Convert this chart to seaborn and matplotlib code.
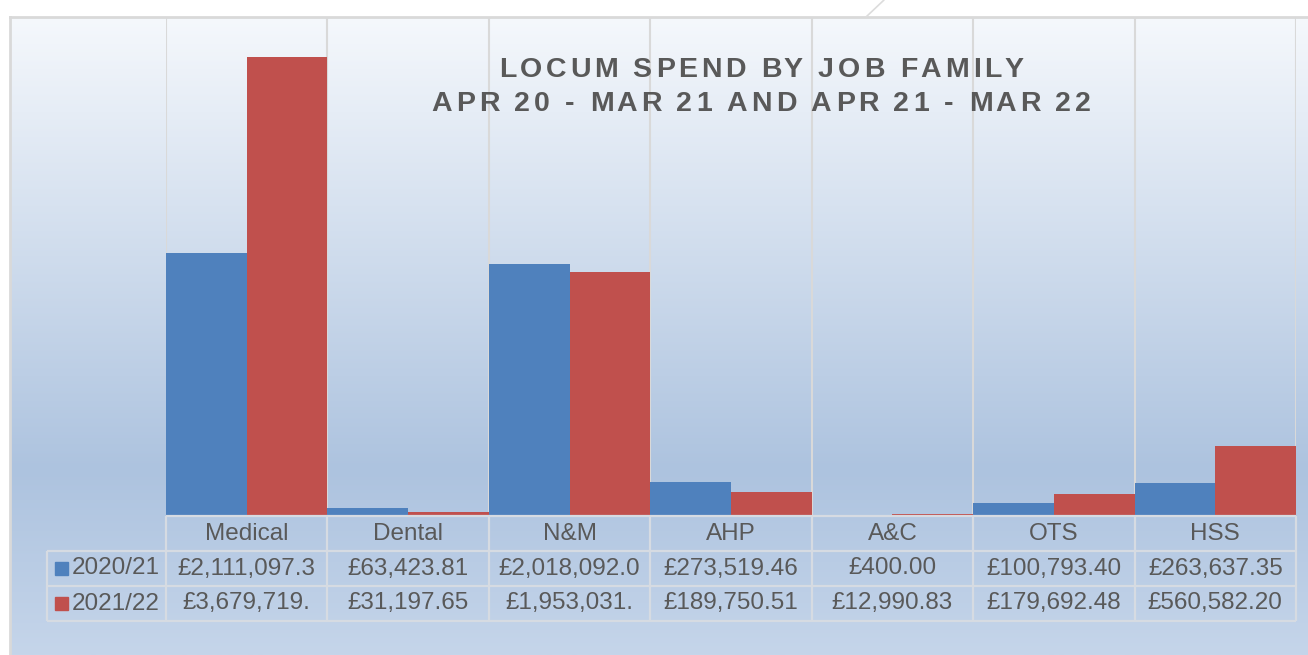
import matplotlib.pyplot as plt
import numpy as np
import pandas as pd
import seaborn as sns
from matplotlib import font_manager, ft2font
from matplotlib.colors import LinearSegmentedColormap
from matplotlib.lines import Line2D
from matplotlib.patches import Rectangle

sns.set_style('white')
plt.rcParams['font.family'] = ['Liberation Sans', 'DejaVu Sans']

categories = ['Medical', 'Dental', 'N&M', 'AHP', 'A&C', 'OTS', 'HSS']
years = ['2020/21', '2021/22']
spend_2020_21 = [2111097.30, 63423.81, 2018092.00, 273519.46, 400.00, 100793.40, 263637.35]
spend_2021_22 = [3679719.00, 31197.65, 1953031.00, 189750.51, 12990.83, 179692.48, 560582.20]
# text as it shows in the data table (Excel clips the long ones)
shown_2020_21 = ['£2,111,097.3', '£63,423.81', '£2,018,092.0', '£273,519.46',
                 '£400.00', '£100,793.40', '£263,637.35']
shown_2021_22 = ['£3,679,719.', '£31,197.65', '£1,953,031.', '£189,750.51',
                 '£12,990.83', '£179,692.48', '£560,582.20']
title_lines = ['LOCUM SPEND BY JOB FAMILY', 'APR 20 - MAR 21 AND APR 21 - MAR 22']

colours = ['#4f81bd', '#c0504d']
grey_text = '#595959'
grid_col = '#d9d9d9'

df = pd.DataFrame({
    'Job family': categories * 2,
    'Year': [years[0]] * 7 + [years[1]] * 7,
    'Spend': spend_2020_21 + spend_2021_22,
})

W, H = 1308, 655
fig = plt.figure(figsize=(W / 100, H / 100), dpi=100)
fig.patch.set_facecolor('white')

# chart area with vertical gradient
bg = fig.add_axes([10 / W, 0, 1 - 10 / W, 1 - 17 / H])
grad = LinearSegmentedColormap.from_list(
    'bg', [(0, '#f5f8fc'), (0.71, '#adc3df'), (1, '#c5d5ea')])
bg.imshow(np.linspace(0, 1, 256).reshape(-1, 1), cmap=grad, aspect='auto',
          extent=[0, 1, 0, 1], origin='upper')
bg.set_xticks([])
bg.set_yticks([])
for side in ['right', 'bottom']:
    bg.spines[side].set_visible(False)
for side in ['left', 'top']:
    bg.spines[side].set_color(grid_col)
    bg.spines[side].set_linewidth(2)
fig.add_artist(Line2D([866 / W, 884 / W], [1 - 17 / H, 1], color='#dcdcdc', lw=1.2))

# bars
ax = fig.add_axes([166 / W, 1 - 516 / H, 1130 / W, (516 - 17) / H])
ax.patch.set_alpha(0)
sns.barplot(data=df, x='Job family', y='Spend', hue='Year', palette=colours,
            width=1, saturation=1, legend=False, linewidth=0, ax=ax, zorder=2)
ax.set_xlim(-0.5, 6.5)
ax.set_ylim(0, 4000000)
for b in np.arange(-0.5, 7, 1):
    ax.axvline(b, color=grid_col, lw=1.5, zorder=1)
ax.set_axis_off()

# data table under the bars
cell_w = 1130 / 7
to_x = lambda px: -0.5 + (px - 166) / cell_w
left = to_x(47)
tab = fig.add_axes([47 / W, 1 - 621 / H, (1296 - 47) / W, (621 - 516) / H])
tab.patch.set_alpha(0)
tab.set_xlim(left, 6.5)
tab.set_ylim(3, 0)
tab.set_axis_off()
line_kw = dict(color='#d6dbe2', lw=1.6, clip_on=False)
tab.hlines(0, -0.5, 6.5, **line_kw)
tab.hlines([1, 2, 3], left, 6.5, **line_kw)
tab.vlines(np.arange(-0.5, 7, 1), 0, 3, **line_kw)
tab.vlines(left, 1, 3, **line_kw)

txt_kw = dict(fontsize=17.5, color=grey_text, ha='center', va='center')
for i, cat in enumerate(categories):
    tab.text(i, 0.5, cat, **txt_kw)
    tab.text(i, 1.5, shown_2020_21[i], **txt_kw)
    tab.text(i, 2.5, shown_2021_22[i], **txt_kw)
for r, (yr, c) in enumerate(zip(years, colours)):
    tab.add_patch(Rectangle((to_x(55), 1.5 + r - 0.18), 12.5 / cell_w, 0.36,
                            color=c, clip_on=False))
    tab.text(to_x(72), 1.5 + r, yr, fontsize=17.5, color=grey_text,
             ha='left', va='center')


def spaced_title(text, y_px, size=20.5, track=3.6, xc=760):
    prop = font_manager.FontProperties(family='Liberation Sans', weight='bold', size=size)
    font = ft2font.FT2Font(font_manager.findfont(prop))
    font.set_size(size, 100)
    glyphs = [font.load_char(ord(c)) for c in text]
    adv = [g.linearHoriAdvance / 65536 for g in glyphs]
    x = xc - (sum(adv) + track * (len(text) - 1)) / 2
    for c, g, a in zip(text, glyphs, adv):
        if c != ' ':
            fig.text((x + g.horiBearingX / 64) / W, 1 - y_px / H, c,
                     fontproperties=prop, color=grey_text, ha='left', va='baseline')
        x += a + track


spaced_title(title_lines[0], 77)
spaced_title(title_lines[1], 111)

fig.savefig('out.png', dpi=100)
